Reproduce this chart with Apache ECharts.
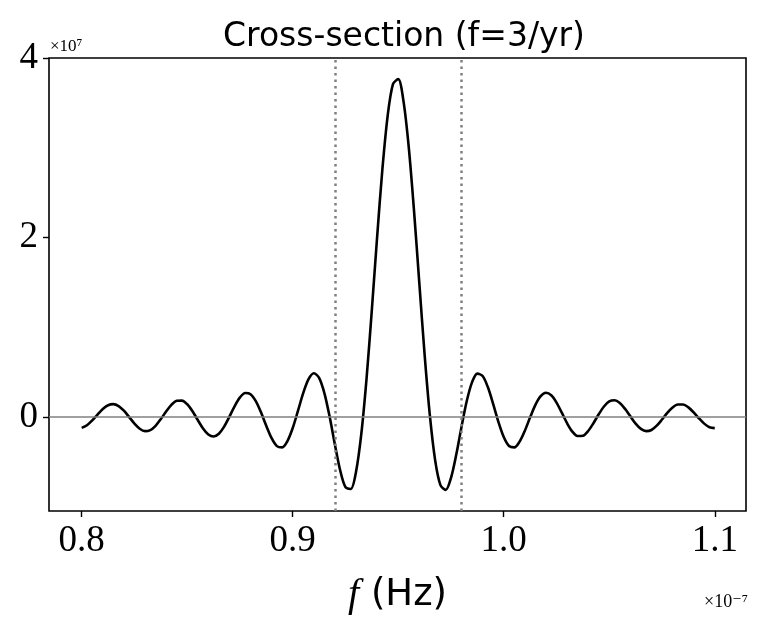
<!DOCTYPE html>
<html>
<head>
<meta charset="utf-8">
<script src="https://cdn.jsdelivr.net/npm/echarts@6/dist/echarts.min.js"></script>
<style>
  html, body { margin: 0; padding: 0; background: #fff; }
  #chart { width: 769px; height: 628px; }
</style>
</head>
<body>
<div id="chart"></div>
<script>
// frequency in units of 1e-7 Hz
const freq = [
  0.8000, 0.8025, 0.8050, 0.8075, 0.8100, 0.8125, 0.8150, 0.8175, 0.8200, 0.8225,
  0.8250, 0.8275, 0.8300, 0.8325, 0.8350, 0.8375, 0.8400, 0.8425, 0.8450, 0.8475,
  0.8500, 0.8525, 0.8550, 0.8575, 0.8600, 0.8625, 0.8650, 0.8675, 0.8700, 0.8725,
  0.8750, 0.8775, 0.8800, 0.8825, 0.8850, 0.8875, 0.8900, 0.8925, 0.8950, 0.8975,
  0.9000, 0.9025, 0.9050, 0.9075, 0.9100, 0.9125, 0.9150, 0.9175, 0.9200, 0.9225,
  0.9250, 0.9275, 0.9300, 0.9325, 0.9350, 0.9375, 0.9400, 0.9425, 0.9450, 0.9475,
  0.9500, 0.9525, 0.9550, 0.9575, 0.9600, 0.9625, 0.9650, 0.9675, 0.9700, 0.9725,
  0.9750, 0.9775, 0.9800, 0.9825, 0.9850, 0.9875, 0.9900, 0.9925, 0.9950, 0.9975,
  1.0000, 1.0025, 1.0050, 1.0075, 1.0100, 1.0125, 1.0150, 1.0175, 1.0200, 1.0225,
  1.0250, 1.0275, 1.0300, 1.0325, 1.0350, 1.0375, 1.0400, 1.0425, 1.0450, 1.0475,
  1.0500, 1.0525, 1.0550, 1.0575, 1.0600, 1.0625, 1.0650, 1.0675, 1.0700, 1.0725,
  1.0750, 1.0775, 1.0800, 1.0825, 1.0850, 1.0875, 1.0900, 1.0925, 1.0950, 1.0975,
  1.1000
]

// cross-section in units of 1e7
const crossSection = [
  -0.123, -0.094, -0.040, 0.025, 0.087, 0.129, 0.141, 0.120, 0.068, -0.003,
  -0.076, -0.133, -0.160, -0.148, -0.100, -0.025, 0.059, 0.133, 0.178, 0.181,
  0.140, 0.062, -0.036, -0.130, -0.197, -0.219, -0.188, -0.109, 0.002, 0.120,
  0.216, 0.265, 0.252, 0.174, 0.047, -0.102, -0.238, -0.327, -0.341, -0.270,
  -0.125, 0.068, 0.266, 0.419, 0.485, 0.435, 0.265, 0.000, -0.311, -0.598,
  -0.785, -0.805, -0.612, -0.191, 0.432, 1.195, 2.007, 2.763, 3.358, 3.709,
  3.764, 3.516, 3.001, 2.291, 1.487, 0.694, 0.012, -0.486, -0.762, -0.815,
  -0.680, -0.420, -0.110, 0.179, 0.387, 0.481, 0.455, 0.329, 0.142, -0.059,
  -0.225, -0.325, -0.341, -0.277, -0.155, -0.006, 0.133, 0.230, 0.268, 0.240,
  0.159, 0.046, -0.071, -0.165, -0.214, -0.211, -0.158, -0.071, 0.028, 0.115,
  0.171, 0.184, 0.154, 0.088, 0.005, -0.076, -0.135, -0.160, -0.147, -0.099,
  -0.030, 0.044, 0.104, 0.137, 0.137, 0.105, 0.049, -0.017, -0.076, -0.116,
  -0.126
]

// dotted vertical markers (1e-7 Hz)
const bandEdges = [0.9176, 0.9810]

const xTicks = [0.8, 0.9, 1.0, 1.1]
const xTickLabels = ['0.8', '0.9', '1.0', '1.1']
const yTicks = [0, 2, 4]
const yTickLabels = ['0', '2', '4']

const SERIF = '"Liberation Serif", "DejaVu Serif", serif'
const SANS = '"DejaVu Sans", "Noto Sans", sans-serif'

const chart = echarts.init(document.getElementById('chart'), null, { renderer: 'canvas' })

chart.setOption({
  backgroundColor: '#fff',
  animation: false,
  title: {
    text: 'Cross-section (f=3/yr)',
    left: 399,
    top: 16,
    textAlign: 'center',
    textStyle: { fontFamily: SANS, fontWeight: 'normal', fontSize: 33, color: '#000' },
  },
  grid: {
    left: 49, right: 23, top: 58, bottom: 117,
    show: true, borderColor: '#000', borderWidth: 1.6, backgroundColor: 'transparent',
  },
  xAxis: {
    type: 'value',
    position: 'bottom',
    min: 0.7845,
    max: 1.1148,
    splitLine: { show: false },
    axisLine: { show: false, onZero: false },
    axisTick: { show: true, inside: false, customValues: xTicks, length: 6, lineStyle: { color: '#000', width: 1.4 } },
    axisLabel: {
      customValues: xTicks,
      formatter: (v) => xTickLabels[xTicks.indexOf(v)] ?? '',
      fontFamily: SERIF, fontSize: 37, color: '#000', margin: 12,
    },
    name: '{i|f} (Hz)',
    nameLocation: 'middle',
    nameGap: 64,
    nameTextStyle: {
      fontFamily: SANS, fontSize: 37, color: '#000',
      rich: { i: { fontFamily: SERIF, fontStyle: 'italic', fontSize: 40, color: '#000' } },
    },
  },
  yAxis: {
    type: 'value',
    min: -1.05,
    max: 4.0,
    splitLine: { show: false },
    axisLine: { show: false, onZero: false },
    axisTick: { show: true, inside: false, customValues: yTicks, length: 6, lineStyle: { color: '#000', width: 1.4 } },
    axisLabel: {
      customValues: yTicks,
      formatter: (v) => yTickLabels[yTicks.indexOf(v)] ?? '',
      fontFamily: SERIF, fontSize: 37, color: '#000', margin: 11,
    },
  },
  graphic: [
    { type: 'text', left: 50, top: 38, style: { text: '×10⁷', font: '17px ' + SERIF, fill: '#000' } },
    { type: 'text', right: 21, top: 593, style: { text: '×10⁻⁷', font: '18px ' + SERIF, fill: '#000' } },
  ],
  series: [
    {
      type: 'line',
      data: freq.map((f, i) => [f, crossSection[i]]),
      showSymbol: false,
      smooth: 0.3,
      lineStyle: { color: '#000', width: 2.6 },
      z: 3,
      markLine: {
        silent: true,
        symbol: 'none',
        label: { show: false },
        data: [
          { yAxis: 0, lineStyle: { color: '#808080', width: 1.6, type: 'solid' } },
          ...bandEdges.map((x) => ({ xAxis: x, lineStyle: { color: '#808080', width: 2.5, type: [2.5, 4] } })),
        ],
      },
    },
  ],
})
</script>
</body>
</html>
